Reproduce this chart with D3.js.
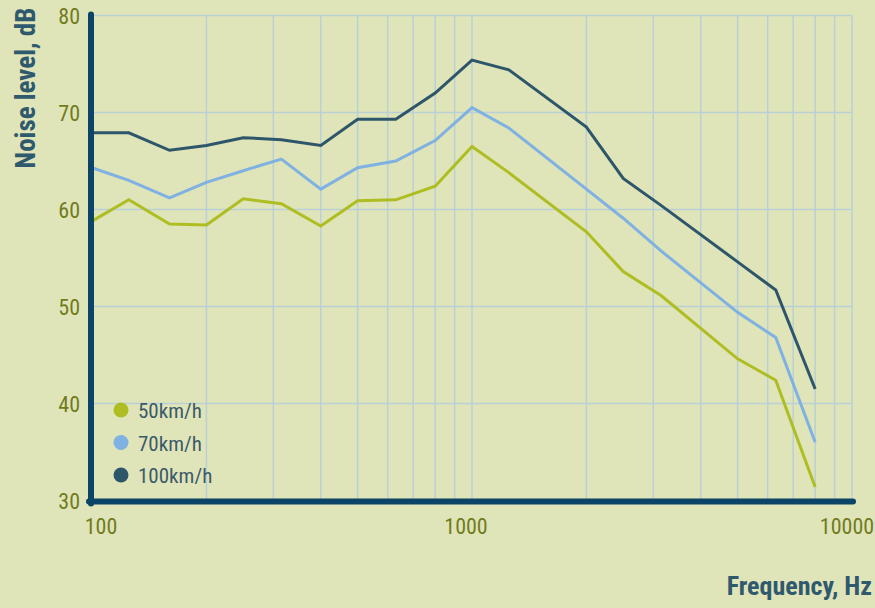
<!DOCTYPE html>
<html>
<head>
<meta charset="utf-8">
<script src="https://cdn.jsdelivr.net/npm/d3@7"></script>
<style>
  html, body { margin: 0; padding: 0; background: #e0e4b9; }
  svg { display: block; }
  .grid line { stroke: #b9d0d6; stroke-width: 1.5; }
  .tick-label { font-family: "Liberation Sans Narrow", "Roboto Condensed", Roboto, sans-serif; font-size: 22px; fill: #707c1c; }
  .axis-title { font-family: "Liberation Sans Narrow", "Roboto Condensed", Roboto, sans-serif; font-size: 26px; font-weight: bold; fill: #2f5a6d; }
  .legend-text { font-family: "Liberation Sans Narrow", "Roboto Condensed", Roboto, sans-serif; font-size: 21px; fill: #3b5a6a; }
</style>
</head>
<body>
<div id="chart"></div>
<script>
var width = 875,
    height = 608;

// frequency bands, Hz
var frequencies = [100, 125, 160, 200, 250, 315, 400, 500, 630, 800,
                   1000, 1250, 2000, 2500, 3150, 5000, 6300, 8000];

var speed50 = [58.8, 61.0, 58.5, 58.4, 61.1, 60.6, 58.3, 60.9, 61.0, 62.4,
               66.5, 63.8, 57.7, 53.6, 51.1, 44.6, 42.4, 31.4];
var speed70 = [64.3, 63.0, 61.2, 62.8, 64.0, 65.2, 62.1, 64.3, 65.0, 67.1,
               70.5, 68.4, 62.1, 59.1, 55.7, 49.4, 46.8, 36.0];
var speed100 = [67.9, 67.9, 66.1, 66.6, 67.4, 67.2, 66.6, 69.3, 69.3, 72.0,
                75.4, 74.4, 68.5, 63.2, 60.4, 54.6, 51.7, 41.5];

var seriesNames = ['50km/h', '70km/h', '100km/h'];
var seriesColors = ['#aebe22', '#7fb1e2', '#2e566b'];

var yTicks = [30, 40, 50, 60, 70, 80];
var xTicks = [100, 1000, 10000];

var series = [speed50, speed70, speed100].map(function(values, i) {
  return {
    name: seriesNames[i],
    color: seriesColors[i],
    points: frequencies.map(function(f, j) { return { f: f, v: values[j] }; })
  };
});

var x = d3.scaleLog().domain([100, 10000]).range([92, 852]);
var y = d3.scaleLinear().domain([30, 80]).range([500.5, 15.5]);

var svg = d3.select('#chart').append('svg')
    .attr('width', width)
    .attr('height', height);

// grid: every 100..900, 1000..9000 plus 10000
var gridX = [];
[100, 1000].forEach(function(decade) {
  for (var k = 2; k <= 10; k++) gridX.push(decade * k);
});

var grid = svg.append('g').attr('class', 'grid');
grid.selectAll('.gx')
    .data(gridX)
  .enter().append('line')
    .attr('class', 'gx')
    .attr('x1', function(d) { return x(d); })
    .attr('x2', function(d) { return x(d); })
    .attr('y1', y(80))
    .attr('y2', y(30));
grid.selectAll('.gy')
    .data(yTicks.slice(1))
  .enter().append('line')
    .attr('class', 'gy')
    .attr('x1', x(100))
    .attr('x2', x(10000))
    .attr('y1', function(d) { return y(d); })
    .attr('y2', function(d) { return y(d); });

// lines
var line = d3.line()
    .x(function(d) { return x(d.f); })
    .y(function(d) { return y(d.v); });

svg.selectAll('.series')
    .data(series)
  .enter().append('path')
    .attr('class', 'series')
    .attr('fill', 'none')
    .attr('stroke', function(d) { return d.color; })
    .attr('stroke-width', 3)
    .attr('stroke-linejoin', 'miter')
    .attr('d', function(d) { return line(d.points); });

// axes as thick rounded bars
svg.append('line')
    .attr('x1', x(100) - 1).attr('x2', x(100) - 1)
    .attr('y1', y(80) - 1).attr('y2', y(30) + 3)
    .attr('stroke', '#0b4466').attr('stroke-width', 6)
    .attr('stroke-linecap', 'round');
svg.append('line')
    .attr('x1', x(100) - 3).attr('x2', x(10000) + 1)
    .attr('y1', y(30) + 1).attr('y2', y(30) + 1)
    .attr('stroke', '#0b4466').attr('stroke-width', 6)
    .attr('stroke-linecap', 'round');

// tick labels
svg.selectAll('.ytick')
    .data(yTicks)
  .enter().append('text')
    .attr('class', 'tick-label')
    .attr('x', 80)
    .attr('y', function(d) { return y(d) + 8; })
    .attr('text-anchor', 'end')
    .text(function(d) { return d; });

svg.selectAll('.xtick')
    .data(xTicks)
  .enter().append('text')
    .attr('class', 'tick-label')
    .attr('x', function(d, i) { return x(d) + [9, -6, -5][i]; })
    .attr('y', 534)
    .attr('text-anchor', 'middle')
    .text(function(d) { return d; });

// axis titles
svg.append('text')
    .attr('class', 'axis-title')
    .attr('x', 872)
    .attr('y', 595)
    .attr('text-anchor', 'end')
    .text('Frequency, Hz');

svg.append('text')
    .attr('class', 'axis-title')
    .style('font-size', '27px')
    .attr('transform', 'translate(35,88) rotate(-90)')
    .attr('text-anchor', 'middle')
    .text('Noise level, dB');

// legend
var legend = svg.selectAll('.legend')
    .data(series)
  .enter().append('g')
    .attr('class', 'legend')
    .attr('transform', function(d, i) { return 'translate(121,' + (410 + i * 32.5) + ')'; });
legend.append('circle')
    .attr('r', 7.5)
    .attr('fill', function(d) { return d.color; });
legend.append('text')
    .attr('class', 'legend-text')
    .attr('x', 17)
    .attr('y', 8)
    .text(function(d) { return d.name; });
</script>
</body>
</html>
